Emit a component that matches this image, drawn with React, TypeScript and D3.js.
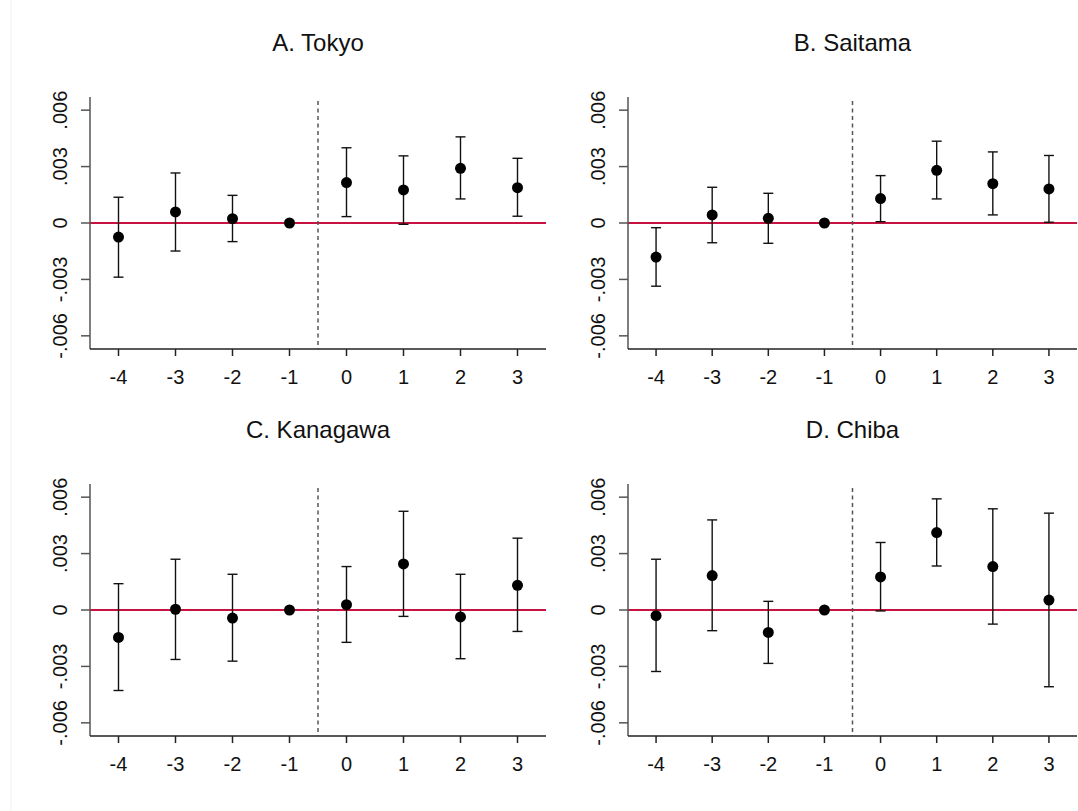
import React from "react";
import * as d3 from "d3";

const periods = [-4, -3, -2, -1, 0, 1, 2, 3];
const yTicks = [-0.006, -0.003, 0, 0.003, 0.006];
const yTickLabels = ["-.006", "-.003", "0", ".003", ".006"];

const titles = ["A. Tokyo", "B. Saitama", "C. Kanagawa", "D. Chiba"];

const tokyoEst = [-0.00075, 0.00059, 0.00023, 0, 0.00215, 0.00176, 0.00291, 0.00188];
const tokyoLo = [-0.00288, -0.00149, -0.00099, 0, 0.00034, -0.00007, 0.00128, 0.00036];
const tokyoHi = [0.00137, 0.00266, 0.00147, 0, 0.0040, 0.00357, 0.00458, 0.00344];

const saitamaEst = [-0.00181, 0.00043, 0.00025, 0, 0.0013, 0.0028, 0.00209, 0.00181];
const saitamaLo = [-0.00336, -0.00105, -0.00108, 0, 0.00007, 0.00128, 0.00043, 0.00004];
const saitamaHi = [-0.00025, 0.0019, 0.00158, 0, 0.00252, 0.00435, 0.00378, 0.00359];

const kanagawaEst = [-0.00146, 0.00004, -0.00043, 0, 0.00028, 0.00245, -0.00037, 0.00131];
const kanagawaLo = [-0.00428, -0.00263, -0.00272, 0, -0.00172, -0.00034, -0.00259, -0.00114];
const kanagawaHi = [0.0014, 0.0027, 0.0019, 0, 0.00231, 0.00525, 0.0019, 0.00382];

const chibaEst = [-0.0003, 0.00183, -0.00119, 0, 0.00176, 0.00412, 0.00231, 0.00053];
const chibaLo = [-0.00327, -0.0011, -0.00284, 0, -0.00005, 0.00234, -0.00075, -0.00408];
const chibaHi = [0.0027, 0.00479, 0.00046, 0, 0.00359, 0.00591, 0.00538, 0.00515];

const panelData = [
  { est: tokyoEst, lo: tokyoLo, hi: tokyoHi },
  { est: saitamaEst, lo: saitamaLo, hi: saitamaHi },
  { est: kanagawaEst, lo: kanagawaLo, hi: kanagawaHi },
  { est: chibaEst, lo: chibaLo, hi: chibaHi },
];

const boxes = [
  { left: 90, right: 546, top: 97, bottom: 349 },
  { left: 628, right: 1077, top: 97, bottom: 349 },
  { left: 90, right: 546, top: 484, bottom: 736 },
  { left: 628, right: 1077, top: 484, bottom: 736 },
];

const FONT = "'Liberation Sans', Arial, sans-serif";

function Panel({ idx }: { idx: number }) {
  const b = boxes[idx];
  const d = panelData[idx];
  const x = d3.scaleLinear().domain([-4.5, 3.5]).range([b.left, b.right]);
  const y = d3.scaleLinear().domain([-0.0067, 0.0067]).range([b.bottom, b.top]);
  const cx = (b.left + b.right) / 2;
  return (
    <g>
      <text x={cx} y={b.top - 46} textAnchor="middle" fontSize={24} fontFamily={FONT} fill="#111">
        {titles[idx]}
      </text>
      {/* zero line */}
      <line x1={b.left} x2={b.right} y1={y(0)} y2={y(0)} stroke="#c8123f" strokeWidth={2} />
      {/* dashed reference */}
      <line x1={x(-0.5)} x2={x(-0.5)} y1={b.top + 4} y2={b.bottom} stroke="#555" strokeWidth={1.5} strokeDasharray="4,3.5" />
      {/* y axis */}
      <line x1={b.left} x2={b.left} y1={b.top} y2={b.bottom} stroke="#555" strokeWidth={1.5} />
      {yTicks.map((t, i) => (
        <g key={i}>
          <line x1={b.left - 9} x2={b.left} y1={y(t)} y2={y(t)} stroke="#555" strokeWidth={1.5} />
          <text
            transform={`translate(${b.left - 23},${y(t)}) rotate(-90)`}
            textAnchor="middle"
            fontSize={20}
            fontFamily={FONT}
            fill="#111"
          >
            {yTickLabels[i]}
          </text>
        </g>
      ))}
      {/* x axis */}
      <line x1={b.left} x2={b.right} y1={b.bottom} y2={b.bottom} stroke="#222" strokeWidth={1.5} />
      {periods.map((p) => (
        <g key={p}>
          <line x1={x(p)} x2={x(p)} y1={b.bottom} y2={b.bottom + 7} stroke="#222" strokeWidth={1.5} />
          <text x={x(p)} y={b.bottom + 35} textAnchor="middle" fontSize={20} fontFamily={FONT} fill="#111">
            {p}
          </text>
        </g>
      ))}
      {/* error bars */}
      {periods.map((p, i) =>
        p === -1 ? null : (
          <g key={"e" + p}>
            <line x1={x(p)} x2={x(p)} y1={y(d.lo[i])} y2={y(d.hi[i])} stroke="#111" strokeWidth={1.4} />
            <line x1={x(p) - 5} x2={x(p) + 5} y1={y(d.lo[i])} y2={y(d.lo[i])} stroke="#111" strokeWidth={1.4} />
            <line x1={x(p) - 5} x2={x(p) + 5} y1={y(d.hi[i])} y2={y(d.hi[i])} stroke="#111" strokeWidth={1.4} />
          </g>
        )
      )}
      {periods.map((p, i) => (
        <circle key={"c" + p} cx={x(p)} cy={y(d.est[i])} r={5.5} fill="#000" />
      ))}
    </g>
  );
}

export default function App() {
  return (
    <svg
      width={1078}
      height={811}
      style={{ position: "absolute", left: 0, top: 0, background: "#fff" }}
    >
      <rect x={0} y={0} width={1078} height={811} fill="#fff" />
      <line x1={11} x2={11} y1={0} y2={811} stroke="#eef3f3" strokeWidth={1} />
      {boxes.map((_, i) => (
        <Panel key={i} idx={i} />
      ))}
    </svg>
  );
}
